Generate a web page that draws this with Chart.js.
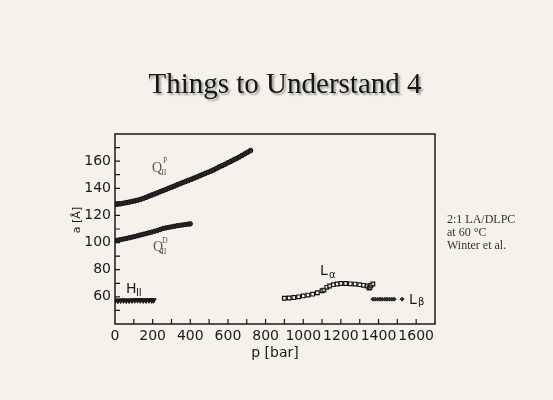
<!DOCTYPE html>
<html>
<head>
<meta charset="utf-8">
<script src="https://cdn.jsdelivr.net/npm/chart.js@4/dist/chart.umd.min.js"></script>
<style>
  html, body { margin: 0; padding: 0; background: #f4f2ea; }
  canvas { display: block; }
</style>
</head>
<body>
<canvas id="myChart" width="553" height="400"></canvas>
<script>
// ---------------------------------------------- DATA ----------------------------------------------
// p [bar] / a [Å] for each phase
const qpP = [0, 15, 30, 45, 60, 75, 90, 105, 120, 135, 150, 165, 180, 195, 210, 225, 240, 255, 270, 285,
  300, 315, 330, 345, 360, 375, 390, 405, 420, 435, 450, 465, 480, 495, 510, 525, 540, 555, 570, 585,
  600, 615, 630, 645, 660, 675, 690, 705, 720];
const qpA = [128, 128.3, 128.6, 129, 129.4, 129.8, 130.3, 130.7, 131.2, 131.8, 132.5, 133.3, 134.2, 135, 135.8, 136.6, 137.5, 138.3, 139.1, 140,
  140.8, 141.6, 142.5, 143.3, 144.2, 145, 145.8, 146.6, 147.5, 148.3, 149.2, 150.1, 151, 151.8, 152.7, 153.6, 154.7, 155.8, 156.7, 157.7,
  158.8, 159.8, 160.9, 161.9, 163, 164.2, 165.4, 166.6, 167.8];

const qdP = [0, 15, 30, 45, 60, 75, 90, 105, 120, 135, 150, 165, 180, 195, 210, 225, 240, 255, 270, 285,
  300, 315, 330, 345, 360, 375, 390, 400];
const qdA = [101.5, 101.8, 102.2, 102.6, 103, 103.5, 104, 104.5, 105, 105.6, 106.1, 106.6, 107.2, 107.7, 108.3, 108.9, 109.6, 110.4, 110.8, 111.2,
  111.6, 112, 112.4, 112.7, 113, 113.3, 113.6, 113.8];

const hP = [0, 15, 30, 45, 60, 75, 90, 105, 120, 135, 150, 165, 180, 195, 205];
const hA = [57.3, 57.2, 57.3, 57.4, 57.3, 57.3, 57.4, 57.5, 57.6, 57.5, 57.4, 57.4, 57.5, 57.4, 57.5];

const laP = [900, 925, 950, 975, 1000, 1025, 1050, 1075, 1100, 1110, 1125, 1140, 1160, 1180, 1200, 1225, 1250, 1275, 1300, 1320, 1340, 1350, 1355, 1360, 1370];
const laA = [59, 59.2, 59.5, 60, 60.7, 61.3, 62, 63, 64.5, 65, 67, 68, 69, 69.5, 69.8, 69.8, 69.6, 69.4, 69, 68.5, 68, 66.5, 67, 68.5, 69.5];

const lbP = [1370, 1382, 1395, 1408, 1420, 1433, 1445, 1458, 1470, 1483, 1525];
const lbA = [58.3, 58.3, 58.3, 58.3, 58.3, 58.3, 58.3, 58.3, 58.3, 58.3, 58.3];

const xLabelTicks = [0, 200, 400, 600, 800, 1000, 1200, 1400, 1600];
const yLabelTicks = [60, 80, 100, 120, 140, 160];

const pts = (xs, ys) => xs.map((x, i) => ({ x: x, y: ys[i] }));

// ---------------------------------------------- PLUGINS ----------------------------------------------
// paper background + title + side note
const slidePlugin = {
  id: 'slidePlugin',
  beforeDraw(chart) {
    const { ctx, width, height } = chart;
    ctx.save();
    ctx.fillStyle = '#f4f2ea';
    ctx.fillRect(0, 0, width, height);
    ctx.restore();
  },
  afterDraw(chart) {
    const { ctx } = chart;
    ctx.save();
    ctx.font = '29px "Liberation Serif"';
    ctx.textAlign = 'center';
    ctx.textBaseline = 'alphabetic';
    ctx.shadowColor = 'rgba(0,0,0,0.35)';
    ctx.shadowOffsetX = 2;
    ctx.shadowOffsetY = 2;
    ctx.shadowBlur = 2;
    ctx.fillStyle = '#151515';
    ctx.fillText('Things to Understand 4', 285, 93);
    ctx.restore();

    ctx.save();
    ctx.font = '12px "Liberation Serif"';
    ctx.fillStyle = '#333';
    ctx.textAlign = 'left';
    ctx.fillText('2:1 LA/DLPC', 447, 223);
    ctx.fillText('at 60 \u00B0C', 447, 236);
    ctx.fillText('Winter et al.', 447, 249);
    ctx.restore();
  }
};

// box frame, inward ticks, axis titles and phase labels
const framePlugin = {
  id: 'framePlugin',
  afterDatasetsDraw(chart) {
    const { ctx, chartArea: { top, bottom, left, right }, scales: { x, y } } = chart;
    ctx.save();
    ctx.strokeStyle = '#1a1a1a';
    ctx.lineWidth = 1.5;
    ctx.strokeRect(left, top, right - left, bottom - top);

    ctx.lineWidth = 1.2;
    ctx.beginPath();
    x.ticks.forEach(t => {
      const px = x.getPixelForValue(t.value);
      if (px <= left + 1 || px >= right - 1) return;
      ctx.moveTo(px, bottom);
      ctx.lineTo(px, bottom - 5);
    });
    y.ticks.forEach(t => {
      const py = y.getPixelForValue(t.value);
      if (py <= top + 1 || py >= bottom - 1) return;
      ctx.moveTo(left, py);
      ctx.lineTo(left + 5, py);
    });
    ctx.stroke();

    // axis titles
    ctx.fillStyle = '#1a1a1a';
    ctx.font = '14px "DejaVu Sans"';
    ctx.textAlign = 'center';
    ctx.fillText('p [bar]', (left + right) / 2, 357);
    ctx.save();
    ctx.translate(80, 220);
    ctx.rotate(-Math.PI / 2);
    ctx.font = '11px "DejaVu Sans"';
    ctx.fillText('a [\u00C5]', 0, 0);
    ctx.restore();

    // phase labels, anchored in data space
    ctx.textAlign = 'left';
    const at = (p, a) => [x.getPixelForValue(p), y.getPixelForValue(a)];

    ctx.fillStyle = '#555';
    let [qx, qy] = at(197, 152);
    ctx.font = '14px "Liberation Serif"';
    ctx.fillText('Q', qx, qy);
    ctx.font = '8px "Liberation Serif"';
    ctx.fillText('P', qx + 11, qy - 9);
    ctx.fillText('II', qx + 9, qy + 3);

    [qx, qy] = at(202, 93.8);
    ctx.font = '14px "Liberation Serif"';
    ctx.fillText('Q', qx, qy);
    ctx.font = '8px "Liberation Serif"';
    ctx.fillText('D', qx + 9, qy - 8);
    ctx.fillText('II', qx + 8, qy + 3);

    ctx.fillStyle = '#1a1a1a';
    let [hx, hy] = at(58, 62.8);
    ctx.font = '14px "DejaVu Sans"';
    ctx.fillText('H', hx, hy);
    ctx.font = '10px "DejaVu Sans"';
    ctx.fillText('II', hx + 10, hy + 3);

    let [lx, ly] = at(1089, 76.1);
    ctx.font = '14px "DejaVu Sans"';
    ctx.fillText('L', lx, ly);
    ctx.font = '10px "DejaVu Sans"';
    ctx.fillText('\u03B1', lx + 9, ly + 3);

    [lx, ly] = at(1562, 54.7);
    ctx.font = '14px "DejaVu Sans"';
    ctx.fillText('L', lx, ly);
    ctx.font = '10px "DejaVu Sans"';
    ctx.fillText('\u03B2', lx + 9, ly + 1);
    ctx.restore();
  }
};

// ---------------------------------------------- CHART ----------------------------------------------
new Chart('myChart', {
  type: 'scatter',
  data: {
    datasets: [
      { label: 'QP', data: pts(qpP, qpA), pointStyle: 'circle', pointRadius: 2.3,
        backgroundColor: '#2a2a2a', borderColor: '#111', borderWidth: 1 },
      { label: 'QD', data: pts(qdP, qdA), pointStyle: 'circle', pointRadius: 2.2,
        backgroundColor: '#2a2a2a', borderColor: '#111', borderWidth: 1 },
      { label: 'HII', data: pts(hP, hA), pointStyle: 'triangle', rotation: 180, pointRadius: 3,
        backgroundColor: '#222', borderColor: '#111', borderWidth: 1 },
      { label: 'La', data: pts(laP, laA), pointStyle: 'rect', pointRadius: 2.6,
        backgroundColor: 'rgba(255,255,255,0.6)', borderColor: '#111', borderWidth: 1.2 },
      { label: 'Lb', data: pts(lbP, lbA), pointStyle: 'rectRot', pointRadius: 2,
        backgroundColor: '#333', borderColor: '#222', borderWidth: 1 }
    ]
  },
  options: {
    responsive: false,
    animation: false,
    layout: { padding: { left: 60, top: 134, right: 118, bottom: 36 } },
    plugins: {
      legend: { display: false },
      tooltip: { enabled: false }
    },
    scales: {
      x: {
        type: 'linear', min: 0, max: 1700,
        border: { display: false },
        grid: { display: false, drawTicks: false, tickLength: 0 },
        afterFit(scale) { scale.height = 40; },
        ticks: {
          stepSize: 100, padding: 4, color: '#1a1a1a', maxRotation: 0, autoSkip: false,
          font: { family: 'DejaVu Sans', size: 14 },
          callback: v => xLabelTicks.includes(v) ? String(v) : ''
        }
      },
      y: {
        type: 'linear', min: 40, max: 180,
        border: { display: false },
        grid: { display: false, drawTicks: false, tickLength: 0 },
        afterFit(scale) { scale.width = 55; },
        ticks: {
          stepSize: 10, padding: 4, color: '#1a1a1a', autoSkip: false,
          font: { family: 'DejaVu Sans', size: 14 },
          callback: v => yLabelTicks.includes(v) ? String(v) : ''
        }
      }
    }
  },
  plugins: [slidePlugin, framePlugin]
});
</script>
</body>
</html>
